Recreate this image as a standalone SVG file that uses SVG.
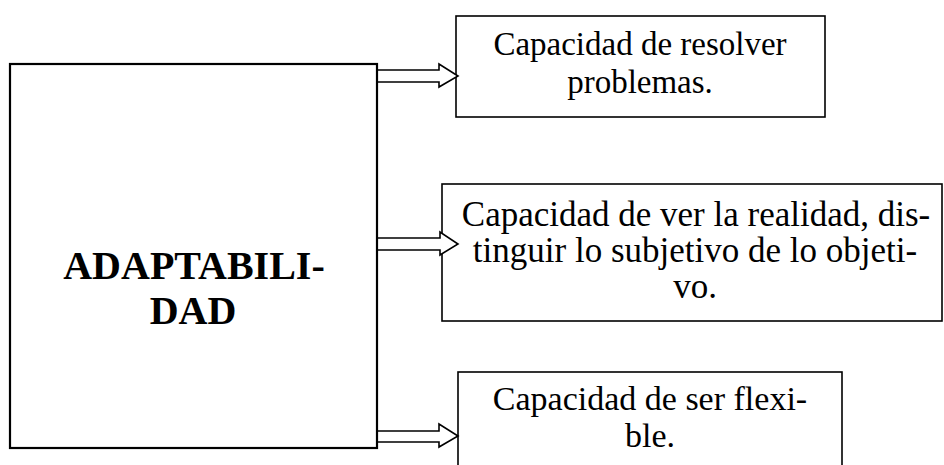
<svg xmlns="http://www.w3.org/2000/svg" width="944" height="465" viewBox="0 0 944 465">
<style>
.box{fill:#fff;stroke:#000;stroke-width:1.6}
.main{fill:#fff;stroke:#000;stroke-width:2.2}
.arr{fill:#fff;stroke:#000;stroke-width:1.6;stroke-linejoin:miter}
.t{font-family:"Liberation Serif","Times New Roman",serif;fill:#000;text-anchor:middle}
.s33{font-size:33px}
.s34{font-size:34px}
.s35{font-size:35px}
.b{font-family:"Liberation Serif","Times New Roman",serif;font-size:40px;font-weight:bold;fill:#000;text-anchor:middle}
</style>
<rect width="944" height="465" fill="#fff"/>
<g id="n1">
<rect class="box" x="456" y="16" width="369" height="101"/>
<text class="t s33" x="640" y="55">Capacidad de resolver</text>
<text class="t s33" x="640" y="93">problemas.</text>
</g>
<g id="n2">
<rect class="box" x="442" y="184" width="500" height="137"/>
<text class="t s35" x="696" y="226">Capacidad de ver la realidad, dis-</text>
<text class="t s35" x="695" y="262">tinguir lo subjetivo de lo objeti-</text>
<text class="t s35" x="695" y="298">vo.</text>
</g>
<g id="n3">
<rect class="box" x="458" y="372" width="384" height="100"/>
<text class="t s34" x="650" y="410">Capacidad de ser flexi-</text>
<text class="t s34" x="650" y="447">ble.</text>
</g>
<g id="connectors">
<polygon class="arr" points="377,70 439,70 439,64 458,76 439,87 439,82 377,82"/>
<polygon class="arr" points="377,238 440,238 440,232 458,244 440,255 440,250 377,250"/>
<polygon class="arr" points="377,431 439,431 439,424 458,436 439,447 439,442 377,442"/>
</g>
<g id="main">
<rect class="main" x="10" y="64" width="367" height="384"/>
<text class="b" x="194" y="279">ADAPTABILI-</text>
<text class="b" x="193" y="324">DAD</text>
</g>
</svg>
